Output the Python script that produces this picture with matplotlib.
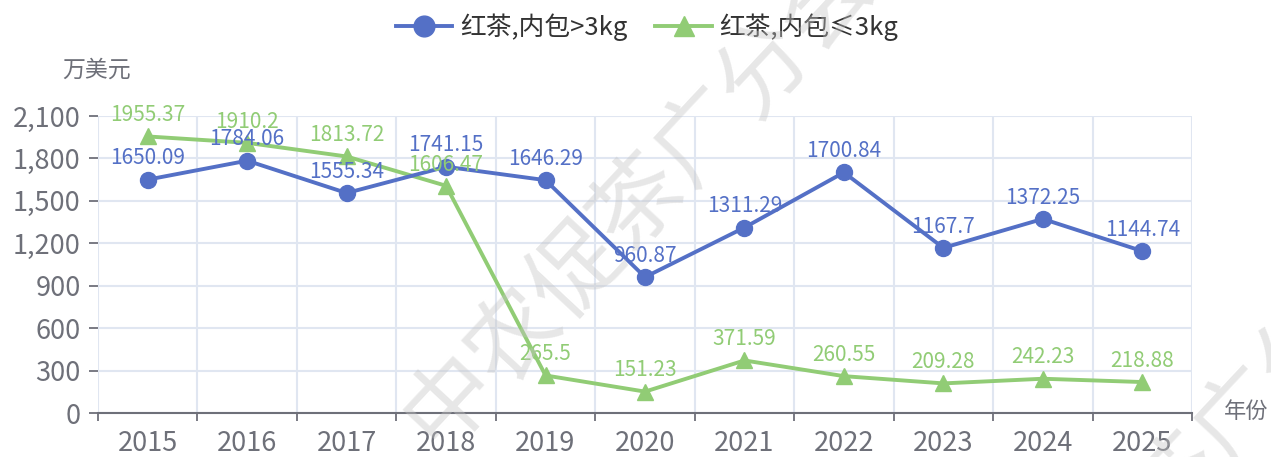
import numpy as np
import matplotlib
matplotlib.use('Agg')
import matplotlib.pyplot as plt
from matplotlib.ticker import FuncFormatter, FixedLocator

plt.rcParams['font.family'] = ['Noto Sans CJK SC', 'DejaVu Sans']

# 数据
years = ['2015', '2016', '2017', '2018', '2019', '2020',
         '2021', '2022', '2023', '2024', '2025']
big_pack = [1650.09, 1784.06, 1555.34, 1741.15, 1646.29, 960.87,
            1311.29, 1700.84, 1167.7, 1372.25, 1144.74]
small_pack = [1955.37, 1910.2, 1813.72, 1606.47, 265.5, 151.23,
              371.59, 260.55, 209.28, 242.23, 218.88]
name_big = '红茶,内包>3kg'
name_small = '红茶,内包≤3kg'

BLUE = '#5470c6'
GREEN = '#91cc75'
AXIS = '#6e7079'
GRID = '#e0e6f1'

W, H = 1271, 457
fig = plt.figure(figsize=(W / 100, H / 100), dpi=100)
ax = fig.add_axes([98 / W, 1 - 413 / H, (1192 - 98) / W, (413 - 116) / H])

x = np.arange(len(years))
l1, = ax.plot(x, big_pack, color=BLUE, lw=2.8, marker='o', ms=11.5,
              zorder=4, clip_on=False)
l2, = ax.plot(x, small_pack, color=GREEN, lw=2.8, marker='^', ms=11,
              zorder=3, clip_on=False)

for xi, v in zip(x, big_pack):
    ax.annotate(f'{v:g}', (xi, v), xytext=(0, 11), textcoords='offset points',
                ha='center', va='baseline', fontsize=15, color=BLUE, zorder=6)
for xi, v in zip(x, small_pack):
    ax.annotate(f'{v:g}', (xi, v), xytext=(0, 11), textcoords='offset points',
                ha='center', va='baseline', fontsize=15, color=GREEN, zorder=6)

# 坐标轴
ax.set_xlim(-0.5, len(years) - 0.5)
ax.set_ylim(0, 2100)
ax.set_yticks(np.arange(0, 2101, 300))
ax.yaxis.set_major_formatter(FuncFormatter(lambda v, p: f'{int(v):,}'))
ax.set_xticks(x)
ax.set_xticklabels(years)
ax.xaxis.set_minor_locator(FixedLocator(np.arange(-0.5, len(years), 1.0)))

ax.tick_params(axis='x', which='major', length=0, pad=12, labelsize=19.5,
               labelcolor=AXIS)
ax.tick_params(axis='x', which='minor', length=6, width=1.3, color=AXIS)
ax.tick_params(axis='y', length=6.5, width=1.3, color=AXIS, pad=6,
               labelsize=19.5, labelcolor=AXIS)

ax.grid(True, axis='y', which='major', color=GRID, lw=1.5, zorder=0)
ax.grid(True, axis='x', which='minor', color=GRID, lw=1.5, zorder=0)
ax.set_axisbelow(True)
for s in ['top', 'right', 'left']:
    ax.spines[s].set_visible(False)
ax.spines['bottom'].set_color(AXIS)
ax.spines['bottom'].set_linewidth(1.5)
ax.spines['bottom'].set_zorder(5)

fig.text(97 / W, 1 - 70 / H, '万美元', ha='center', va='center',
         fontsize=16.5, color=AXIS)
fig.text(1224 / W, 1 - 411 / H, '年份', ha='left', va='center',
         fontsize=16, color=AXIS)

fig.legend([l1, l2], [name_big, name_small], loc='center',
           bbox_to_anchor=(647 / W, 1 - 27 / H), ncol=2, frameon=False,
           fontsize=18.5, handlelength=2.2, handletextpad=0.3,
           columnspacing=1.1, markerscale=1.3, labelcolor='#333333')

# 水印
wm = '中农促茶广分会'
for px, py in [(419, 434), (959, 714)]:
    fig.text(px / W, 1 - py / H, wm, rotation=47, rotation_mode='anchor',
             ha='left', va='center', fontsize=66, color='#c4c4c4',
             alpha=0.4, zorder=10)

fig.savefig('out.png', dpi=100, facecolor='white')
